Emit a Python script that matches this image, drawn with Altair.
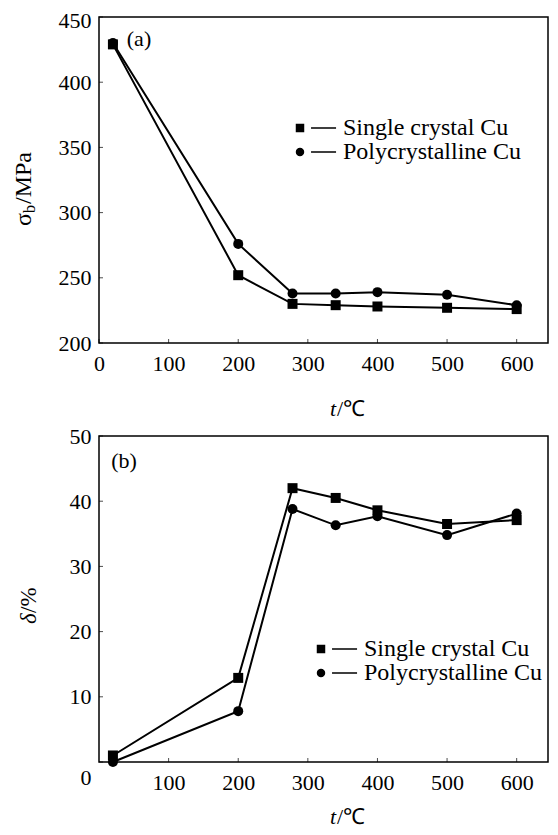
import altair as alt
import pandas as pd

# ---- data ----
temps = [20, 200, 278, 340, 400, 500, 600]
series_names = ["Single crystal Cu", "Polycrystalline Cu"]
sigma_single = [429, 252, 230, 229, 228, 227, 226]
sigma_poly = [430, 276, 238, 238, 239, 237, 229]
delta_single = [1.0, 12.9, 42.0, 40.5, 38.6, 36.5, 37.1]
delta_poly = [0.0, 7.8, 38.8, 36.3, 37.7, 34.8, 38.1]

top_x_ticks = [0, 100, 200, 300, 400, 500, 600]
top_y_ticks = [200, 250, 300, 350, 400, 450]
bot_x_ticks = [100, 200, 300, 400, 500, 600]
bot_y_ticks = [0, 10, 20, 30, 40, 50]

FONT = "Liberation Serif"
W, H = 449, 326
FS = 22

SQ_PATH = "M-1,-1H1V1H-1Z M2.6,-0.18H8.5V0.18H2.6Z"
CI_PATH = "M-1,0A1,1 0 1,1 1,0A1,1 0 1,1 -1,0Z M2.6,-0.18H8.5V0.18H2.6Z"


def make_df(a, b):
    rows = []
    for t, v in zip(temps, a):
        rows.append({"t": t, "v": v, "series": series_names[0]})
    for t, v in zip(temps, b):
        rows.append({"t": t, "v": v, "series": series_names[1]})
    return pd.DataFrame(rows)


def text_layer(s, x, y, size=FS, angle=0, align="left", baseline="middle", style="normal"):
    return alt.Chart(pd.DataFrame({"s": [s]})).mark_text(
        font=FONT, fontSize=size, angle=angle, align=align, baseline=baseline,
        fontStyle=style, color="black"
    ).encode(text="s:N", x=alt.value(x), y=alt.value(y))


def panel(df, ydom, xticks, yticks, leg_x, leg_y, tag, tag_xy, ytitle_parts, xtitle_y, ylab_offset):
    xscale = alt.Scale(domain=[0, 645], nice=False, zero=False)
    yscale = alt.Scale(domain=ydom, nice=False, zero=False)
    xaxis = alt.Axis(values=xticks, title=None, labelFont=FONT, labelFontSize=FS,
                     labelColor="black", ticks=False, domain=False, grid=False,
                     labelPadding=10, labelFlush=False)
    yaxis = alt.Axis(values=yticks, title=None, labelFont=FONT, labelFontSize=FS,
                     labelColor="black", ticks=False, domain=False, grid=False,
                     labelPadding=8, labelFlush=False, labelOffset=ylab_offset)
    xenc = alt.X("t:Q", scale=xscale, axis=xaxis)
    yenc = alt.Y("v:Q", scale=yscale, axis=yaxis)
    line = alt.Chart(df).mark_line(color="black", strokeWidth=2).encode(
        x=xenc, y=yenc, detail="series:N")
    pts = alt.Chart(df).mark_point(filled=True, color="black", opacity=1, size=100).encode(
        x=xenc, y=yenc,
        shape=alt.Shape("series:N", scale=alt.Scale(domain=series_names, range=["square", "circle"]),
                        legend=None))
    leg = alt.Chart(df).transform_filter("false").mark_point(filled=True, color="black").encode(
        x=xenc, y=yenc,
        shape=alt.Shape("series:N", scale=alt.Scale(domain=series_names, range=[SQ_PATH, CI_PATH]),
                        legend=alt.Legend(orient="none", legendX=leg_x, legendY=leg_y, title=None,
                                          labelFont=FONT, labelFontSize=24, labelColor="black",
                                          labelLimit=0,
                                          symbolSize=72, symbolStrokeWidth=0,
                                          symbolFillColor="black", symbolStrokeColor="black",
                                          symbolOpacity=1, labelOffset=31, rowPadding=-3.5, padding=0)))
    # small inward-pointing tick marks on the bottom and left frame edges
    xt = alt.Chart(pd.DataFrame({"t": xticks})).mark_tick(
        orient="vertical", color="black", size=4, thickness=1).encode(
        x=xenc, y=alt.value(H - 2))
    yt = alt.Chart(pd.DataFrame({"v": yticks})).mark_tick(
        orient="horizontal", color="black", size=4, thickness=1).encode(
        y=yenc, x=alt.value(2))
    layers = [line, pts, leg, xt, yt, text_layer(tag, tag_xy[0], tag_xy[1], size=22, align="center")]
    for p in ytitle_parts:
        layers.append(text_layer(p[0], p[1], p[2], size=p[3], angle=270, align="left",
                                 baseline="middle", style=p[4]))
    layers.append(text_layer("t", 231, xtitle_y, size=22, style="italic"))
    layers.append(text_layer("/℃", 238, xtitle_y, size=22))
    return alt.layer(*layers).resolve_scale(shape="independent").properties(width=W, height=H)


top = panel(
    make_df(sigma_single, sigma_poly), [200, 450], top_x_ticks, top_y_ticks,
    189, 99, "(a)", (40, 22),
    [("σ", -75, 209, 24, "normal"), ("b", -69, 196, 16, "normal"), ("/MPa", -75, 187, 24, "normal")],
    392, {"condition": {"test": "datum.value == 450", "value": 3}, "value": 0},
)
bottom = panel(
    make_df(delta_single, delta_poly), [0, 50], bot_x_ticks, bot_y_ticks,
    210, 201, "(b)", (25, 25),
    [("δ", -70, 188, 23, "italic"), ("\u00a0/%", -70, 177, 23, "normal")],
    381, {"condition": {"test": "datum.value == 0", "value": 15}, "value": 0},
)

chart = alt.vconcat(top, bottom, spacing=3).resolve_scale(shape="independent").configure_view(
    stroke="black", strokeWidth=1.5
).configure_axis(
    labelFont=FONT, labelFontSize=FS, labelColor="black"
).properties(padding={"left": 3, "top": 0, "right": 0, "bottom": 0})

chart.save("out.html", embed_options={"renderer": "svg", "actions": False})
